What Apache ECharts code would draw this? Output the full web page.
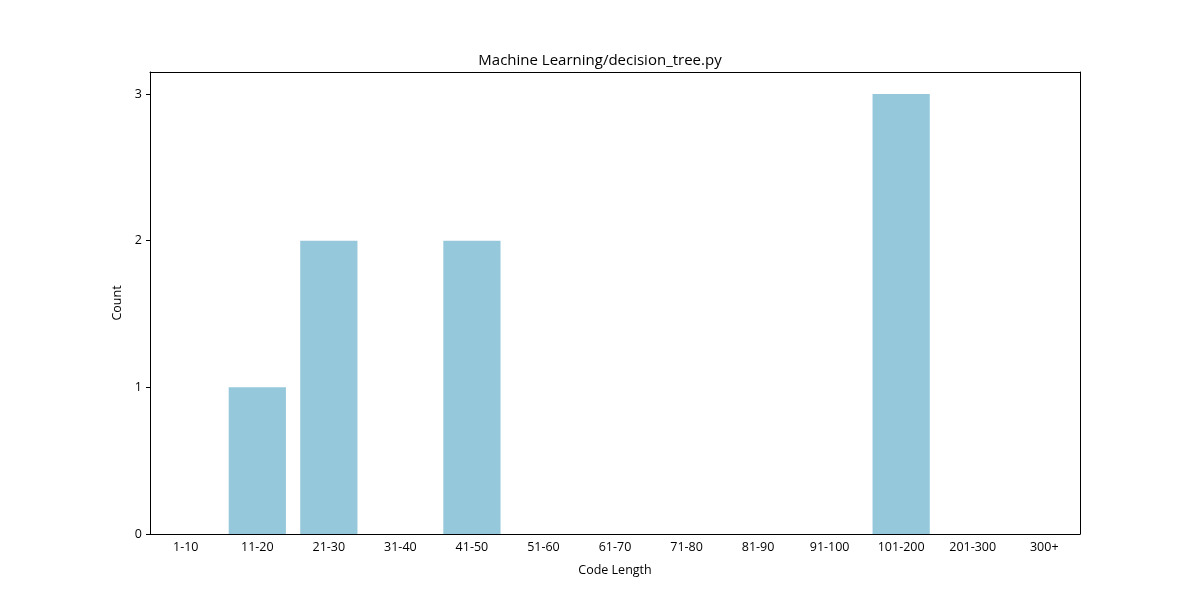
<!DOCTYPE html>
<html lang="en">
<head>
    <meta charset="UTF-8">
    <title>Code length</title>
    <script src="https://cdn.jsdelivr.net/npm/echarts@6/dist/echarts.min.js"></script>
</head>
<body style="margin:0;background:#fff;">
<div id="main" style="width:1200px;height:600px;"></div>
<script type="text/javascript">
    // 代码长度分布
    var categories = ['1-10', '11-20', '21-30', '31-40', '41-50', '51-60', '61-70', '71-80', '81-90', '91-100', '101-200', '201-300', '300+'];
    var counts = [0, 1, 2, 0, 2, 0, 0, 0, 0, 0, 3, 0, 0];
    var yTicks = [0, 1, 2, 3];

    var font = 'Open Sans';
    var myChart = echarts.init(document.getElementById('main'));
    var option = {
        animation: false,
        backgroundColor: '#fff',
        title: {
            text: 'Machine Learning/decision_tree.py',
            left: 'center',
            top: 48,
            textStyle: { fontFamily: font, fontSize: 15, fontWeight: 'normal', color: '#000' }
        },
        grid: { left: 150, right: 120, top: 72, bottom: 66 },
        xAxis: [{
            type: 'category',
            data: categories,
            name: 'Code Length',
            nameLocation: 'middle',
            nameGap: 30,
            nameTextStyle: { fontFamily: font, fontSize: 12.5, color: '#000' },
            axisLine: { lineStyle: { color: '#000' } },
            axisTick: { alignWithLabel: true, length: 4, lineStyle: { color: '#000' } },
            axisLabel: { fontFamily: font, fontSize: 12.5, color: '#000', margin: 7, interval: 0 }
        }, {
            // top frame line
            type: 'category',
            data: categories,
            position: 'top',
            axisLine: { show: true, onZero: false, lineStyle: { color: '#000' } },
            axisTick: { show: false },
            axisLabel: { show: false }
        }],
        yAxis: [{
            type: 'value',
            min: 0,
            max: 3.15,
            name: 'Count',
            nameLocation: 'middle',
            nameGap: 24,
            nameTextStyle: { fontFamily: font, fontSize: 12.5, color: '#000' },
            splitLine: { show: false },
            axisLine: { show: true, onZero: false, lineStyle: { color: '#000' } },
            axisTick: { show: true, length: 4, customValues: yTicks, lineStyle: { color: '#000' } },
            axisLabel: { fontFamily: font, fontSize: 12.5, color: '#000', margin: 8, customValues: yTicks }
        }, {
            // right frame line
            type: 'value',
            min: 0,
            max: 3.15,
            position: 'right',
            splitLine: { show: false },
            axisLine: { show: true, onZero: false, lineStyle: { color: '#000' } },
            axisTick: { show: false },
            axisLabel: { show: false }
        }],
        series: [{
            name: 'Count',
            type: 'bar',
            data: counts,
            barWidth: '80%',
            itemStyle: { color: '#96c8dc' }
        }]
    };
    myChart.setOption(option);
</script>
</body>
</html>
